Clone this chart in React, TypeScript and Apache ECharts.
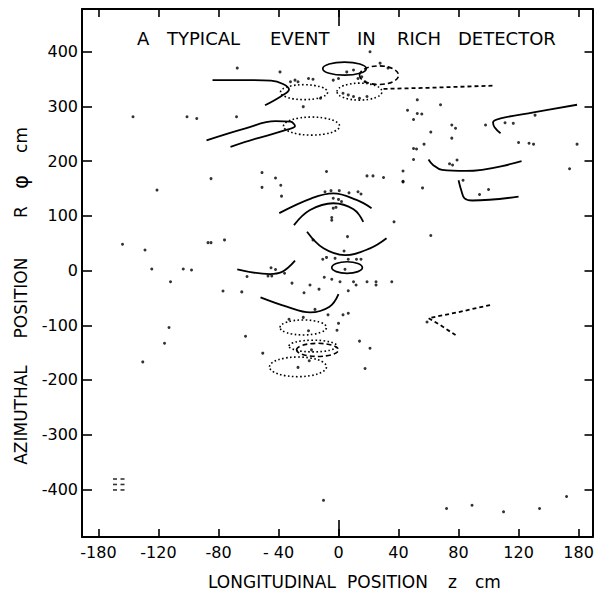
import React, { useEffect, useRef } from "react";
import * as echarts from "echarts";

// ---- axes ----
const X_MIN = -171;
const X_MAX = 169.3;
const Y_MIN = -487;
const Y_MAX = 478;
const xTickValues = [-160, -120, -80, -40, 0, 40, 80, 120, 160];
const xTickLabels = ["-180", "-120", "-80", "- 40", "0", "40", "80", "120", "180"];
const yTickValues = [-400, -300, -200, -100, 0, 100, 200, 300, 400];
const yTickLabels = ["-400", "-300", "-200", "-100", "0", "100", "200", "300", "400"];

// ---- texts ----
const titleWords = ["A", "TYPICAL", "EVENT", "IN", "RICH", "DETECTOR"];
const xTitleWords = ["LONGITUDINAL", "POSITION", "z", "cm"];
const yTitleWords = ["AZIMUTHAL", "POSITION", "R", "φ", "cm"];

// ---- tracks (z, R·phi in cm) ----
const trackTopLeft = [[-84, 348], [-62, 348], [-45, 347], [-37, 341], [-33, 331], [-38, 319], [-49, 302]];
const trackTopDashed = [[30, 332], [60, 334], [104, 338]];
const trackUpperLeft = [[-88, 238], [-62, 260], [-42, 273], [-32, 272], [-29, 264], [-36, 256], [-55, 241], [-72, 226]];
const trackUpperRight = [[159, 303], [130, 289], [108, 278], [103, 271], [104, 262], [108, 251]];
const trackRightMid = [[60, 203], [63, 193], [69, 184], [85, 182], [122, 200]];
const trackRightLow = [[80, 165], [82, 145], [84, 132], [89, 128], [120, 135]];
const trackArcOuter = [[-39.5, 105], [-18, 132], [-3.5, 141], [12, 129], [22, 114]];
const trackArcInner = [[-29.7, 83], [-19, 110.6], [-3.5, 123], [10, 112], [16.5, 89]];
const trackArcU = [[-21, 71], [-10, 40.6], [4.3, 28.3], [21, 40.6], [32, 59]];
const trackZeroLeft = [[-67.5, 2.2], [-45.7, -6.4], [-38, -3], [-29, 18]];
const trackMinus50 = [[-52, -49], [-34.5, -66], [-19, -76.4], [-6, -66], [0, -43]];
const trackRightMinus = [[101, -63], [80, -76], [60, -87], [68, -100], [78, -118]];

// ---- Cherenkov rings: [z, Rphi, half-width z, half-height Rphi] ----
const ringsSolid = [
  [4, 369, 14.5, 12],
  [5.7, 5.5, 10.2, 10.6],
];
const ringsDashed = [
  [-14, -145, 14, 12],
  [27, 357, 13, 17],
];
const ringsDotted = [
  [-23, 326, 15.7, 13.7],
  [14, 327, 15, 15.5],
  [-18, 264, 18.7, 16.5],
  [-23.5, -104, 15.5, 13.7],
  [-17, -138, 16, 10.7],
  [-27, -176, 19, 18],
];

// ---- single hits ----
const hits = [
  [68, 303], [46, 293], [52.5, 287], [55.5, 286], [50, 276], [75.5, 266], [78, 260], [61.5, 253], [75.5, 242],
  [57, 231], [50, 223], [52, 222], [50, 203], [43, 182], [43, 163], [56, 151], [61.5, 64], [111, 270], [116.5, 269],
  [98, 266], [131, 284], [120, 234], [127, 232.5], [130, 231], [159, 231], [154, 186], [74, 195], [76, 193],
  [79, 202], [94, 139], [100, 148], [83, 165],
  [-51, 179], [-42, 169], [-38.5, 156], [-51, 152], [-38, 136], [-8, 181], [19, 173], [23, 173], [30, 170], [43, 162],
  [-9, 144], [-5, 146], [0.5, 146], [7, 142], [13, 144], [15, 140],
  [-3.5, 132], [0, 130], [2, 126], [-3.5, 114], [-1.7, 115.5], [-4.5, 97], [-4.5, 92],
  [37, 89], [6, 62], [-17, 56], [3.7, 35.6],
  [-10.5, 20.5], [-8, 24], [-2.3, 22.3], [6.5, 20.5], [12, 20.5], [15, 20.5], [4.3, 2.2],
  [-45, 5], [-42, 2], [-47, -10], [-44.5, -10], [-36, -5], [-61, -11], [-31, -23], [-19, -26.5], [-13, -34],
  [-9.5, -12.4], [-4.5, -16], [1, -20.5], [10, -20.5], [11.7, -26.5], [19, -20.5], [25, -20.5], [25, -26.5], [35.5, -20.5],
  [6.5, -37], [-64.5, -39],
  [-23, -40.5], [-7, -81], [3, -81], [6.5, -78], [0, -96.5], [-1, -109], [14, -129], [21, -142], [17.7, -179],
  [59, -94], [-62, -120], [-50.5, -151], [-20, -110], [-18, -145], [-19.5, -165], [-27, -177], [-15.7, -71],
  [-23.5, -85.6], [-33, -89],
  [-144, 48], [-129, 37.5], [-124.5, 2.7], [-103.5, 2.7], [-98, 1], [-112, -20.5], [-87, 51], [-85, 51], [-76, 56],
  [-77, -37.5], [-113, -104], [-116, -133], [-130.5, -167],
  [-67.5, 370], [-39, 363], [-101, 281], [52.5, 312], [21, 400], [-32, 345], [-29, 348], [-27, 345], [-20, 351],
  [-17, 349.5], [-3.5, 348], [0, 351], [5.5, 363], [10, 366.5], [13, 351], [15.5, 354], [17.7, 345], [27.7, 379],
  [33, 370], [3, 324], [6.5, 321], [10, 318], [14, 315], [19, 318], [-23.5, 299.5], [-12, 315], [-68, 281], [-94.5, 278],
  [-137, 281], [-121, 147], [-85, 168],
  [-10, -420], [72, -435], [89, -429], [110, -441], [134, -435], [152, -413],
];

// ---- scale markers, lower left ----
const scaleMarks = [[-149, -381], [-149, -391], [-149, -401], [-144, -381], [-144, -391], [-144, -401]];

export default function App() {
  const ref = useRef<HTMLDivElement>(null);

  useEffect(() => {
    const chart = echarts.init(ref.current as HTMLDivElement, null, { renderer: "svg" });
    const font = "DejaVu Sans";
    const black = "#000";

    const line = (data: number[][], dashed = false, smooth: number | boolean = 0.4) => ({
      type: "line",
      data,
      smooth,
      symbol: "none",
      silent: true,
      xAxisIndex: 0,
      yAxisIndex: 0,
      lineStyle: { color: black, width: 1.8, type: dashed ? [4, 3] : "solid" },
    });

    const rings = (data: number[][], dash: number[] | null, width: number) => ({
      type: "custom",
      data,
      xAxisIndex: 0,
      yAxisIndex: 0,
      silent: true,
      encode: { x: 0, y: 1 },
      renderItem: (_p: any, api: any) => {
        const c = api.coord([api.value(0), api.value(1)]);
        const s = api.size([api.value(2), api.value(3)]);
        return {
          type: "ellipse",
          shape: { cx: c[0], cy: c[1], rx: s[0], ry: s[1] },
          style: { fill: "none", stroke: black, lineWidth: width, lineDash: dash || undefined },
        };
      },
    });

    const frameX = (position: string, showLabel: boolean) => ({
      type: "value",
      position,
      min: X_MIN,
      max: X_MAX,
      axisLine: { show: true, onZero: false, lineStyle: { color: black, width: 2 } },
      axisTick: { show: true, inside: true, length: 8, customValues: xTickValues, lineStyle: { color: black, width: 1.6 } },
      axisLabel: {
        show: showLabel,
        customValues: xTickValues,
        formatter: (v: number) => {
          const i = xTickValues.indexOf(v);
          return i >= 0 ? xTickLabels[i] : "";
        },
        color: black,
        fontSize: 16,
        fontFamily: font,
        margin: 7,
      },
      splitLine: { show: false },
    });
    const zeroTickX = (position: string) => ({
      type: "value",
      position,
      min: X_MIN,
      max: X_MAX,
      axisLine: { show: false, onZero: false },
      axisTick: { show: true, inside: true, length: 17, customValues: [0], lineStyle: { color: black, width: 1.6 } },
      axisLabel: { show: false },
      splitLine: { show: false },
    });
    const frameY = (position: string, showLabel: boolean, tickLen: number) => ({
      type: "value",
      position,
      min: Y_MIN,
      max: Y_MAX,
      axisLine: { show: true, onZero: false, lineStyle: { color: black, width: 2 } },
      axisTick: { show: true, inside: true, length: tickLen, customValues: yTickValues, lineStyle: { color: black, width: 1.6 } },
      axisLabel: {
        show: showLabel,
        customValues: yTickValues,
        formatter: (v: number) => {
          const i = yTickValues.indexOf(v);
          return i >= 0 ? yTickLabels[i] : "";
        },
        color: black,
        fontSize: 16,
        fontFamily: font,
        margin: 4,
      },
      splitLine: { show: false },
    });

    const titleX = [137, 167, 270, 357, 397, 458];
    const xTitleX = [208, 347, 448, 475];
    const yTitleY = [415, 298, 212, 182, 140];

    const graphics: any[] = [];
    titleWords.forEach((w, i) =>
      graphics.push({
        type: "text",
        x: titleX[i],
        y: 38,
        style: { text: w, fill: black, font: `18px "${font}"`, textAlign: "left", textVerticalAlign: "middle" },
      })
    );
    xTitleWords.forEach((w, i) =>
      graphics.push({
        type: "text",
        x: xTitleX[i],
        y: 582,
        style: { text: w, fill: black, font: `17px "${font}"`, textAlign: "left", textVerticalAlign: "middle" },
      })
    );
    yTitleWords.forEach((w, i) =>
      graphics.push({
        type: "text",
        x: 21,
        y: yTitleY[i],
        rotation: Math.PI / 2,
        style: {
          text: w,
          fill: black,
          font: `${w === "φ" ? 21 : 17}px "${font}"`,
          textAlign: "center",
          textVerticalAlign: "middle",
        },
      })
    );

    chart.setOption({
      animation: false,
      backgroundColor: "#fff",
      textStyle: { fontFamily: font },
      grid: { left: 82, top: 9, width: 510.5, height: 528, containLabel: false, outerBoundsMode: "none" },
      xAxis: [frameX("bottom", true), frameX("top", false), zeroTickX("bottom"), zeroTickX("top")],
      yAxis: [frameY("left", true, 10), frameY("right", false, 8)],
      graphic: graphics,
      series: [
        line(trackTopLeft),
        line(trackTopDashed, true, false),
        line(trackUpperLeft),
        line(trackUpperRight),
        line(trackRightMid),
        line(trackRightLow),
        line(trackArcOuter),
        line(trackArcInner),
        line(trackArcU),
        line(trackZeroLeft),
        line(trackMinus50),
        line(trackRightMinus, true, false),
        rings(ringsSolid, null, 1.7),
        rings(ringsDashed, [5, 3], 1.6),
        rings(ringsDotted, [1.6, 2.4], 1.6),
        {
          type: "scatter",
          data: hits,
          symbol: "circle",
          symbolSize: 3,
          silent: true,
          itemStyle: { color: black },
          xAxisIndex: 0,
          yAxisIndex: 0,
        },
        {
          type: "scatter",
          data: scaleMarks,
          symbol: "rect",
          symbolSize: [4, 1.6],
          silent: true,
          itemStyle: { color: black },
          xAxisIndex: 0,
          yAxisIndex: 0,
        },
      ],
    });

    return () => chart.dispose();
  }, []);

  return (
    <div
      ref={ref}
      style={{ position: "fixed", left: 0, top: 0, width: 597, height: 594, background: "#fff" }}
    />
  );
}
